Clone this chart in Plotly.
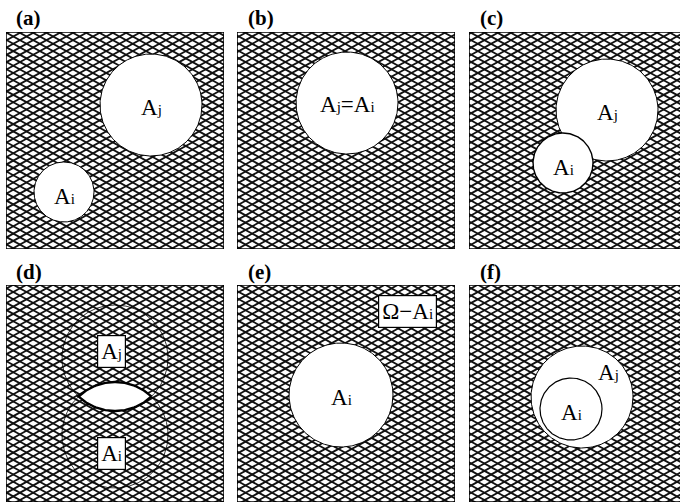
import numpy as np
import plotly.graph_objects as go

W, H = 680, 503

# ---- panel layout (pixels) ----
panel_names = ["(a)", "(b)", "(c)", "(d)", "(e)", "(f)"]
panel_left = [6, 237, 469]
panel_top = [32, 285]
panel_w, panel_h = 218, 217
title_x = [28, 261, 491, 29, 259, 490]
title_y = [18, 18, 18, 272, 272, 272]

# ---- circles (local panel pixel coordinates) ----
circle_panel = [0, 0, 1, 2, 2, 3, 3, 4, 5, 5]
circle_cx = [145, 58, 110, 138, 94, 109, 109, 104, 113, 102]
circle_cy = [73, 160, 71, 78, 131, 73, 150, 110, 112, 124]
circle_r = [51, 30, 51, 51, 30, 53, 53, 52, 51, 31]
circle_filled = [True, True, True, True, True, False, False, True, True, True]
circle_lw = [1.0, 1.0, 1.0, 1.0, 1.4, 0.8, 0.8, 1.0, 1.0, 1.2]

# ---- lens (intersection) in panel (d): indices of the two circles ----
lens_panel = 3
lens_circles = [5, 6]

# ---- text labels ----
label_panel = [0, 0, 1, 2, 2, 3, 3, 4, 4, 5, 5]
label_x = [145, 58, 110, 138, 94, 105, 105, 104, 170, 139, 102]
label_y = [75, 164, 72, 80, 135, 66, 168, 112, 26, 87, 127]
label_main = ["A", "A", "A", "A", "A", "A", "A", "A", "Ω−A", "A", "A"]
label_sub = ["j", "i", "j=A|i", "j", "i", "j", "i", "i", "i", "j", "i"]
label_boxed = [False, False, False, False, False, True, True, False, True, False, False]

# hatching geometry
hatch_slope = 0.55
hatch_gap = 7.3

FONT = "Liberation Serif, Times New Roman, serif"
SUBSPAN = "<span style='font-size:15px'>{}</span>"


def make_text(main, sub):
    if "|" in sub:
        a, b = sub.split("|")
        return main + SUBSPAN.format(a[0]) + a[1:] + SUBSPAN.format(b)
    return main + SUBSPAN.format(sub)


fig = go.Figure()
layout = {}

for p in range(6):
    row, col = divmod(p, 3)
    x0 = panel_left[col]
    y0 = panel_top[row]
    x1 = min(x0 + panel_w, W)
    y1 = min(y0 + panel_h, H)
    n = "" if p == 0 else str(p + 1)
    layout["xaxis" + n] = dict(domain=[x0 / W, x1 / W], range=[0, x1 - x0],
                               visible=False, fixedrange=True,
                               anchor="y" + n)
    layout["yaxis" + n] = dict(domain=[1 - y1 / H, 1 - y0 / H], range=[y1 - y0, 0],
                               visible=False, fixedrange=True,
                               anchor="x" + n)
    xa, ya = "x" + n, "y" + n
    pw, ph = x1 - x0, y1 - y0

    # hatching: two families of lines, phase taken from absolute coords
    xs, ys = [], []
    for sgn in (1, -1):
        cmin = -hatch_slope * (pw + 20) - 20
        cmax = ph + hatch_slope * (pw + 20) + 20
        off = sgn * hatch_slope * x0 - y0
        k0 = int(np.floor((cmin - off) / hatch_gap))
        k1 = int(np.ceil((cmax - off) / hatch_gap))
        for k in range(k0, k1 + 1):
            c = k * hatch_gap + off
            xa0, xa1 = -10, pw + 10
            xs += [xa0, xa1, None]
            ys += [sgn * hatch_slope * xa0 + c, sgn * hatch_slope * xa1 + c, None]
    fig.add_trace(go.Scatter(x=xs, y=ys, mode="lines", xaxis=xa, yaxis=ya,
                             line=dict(color="#111111", width=1.8),
                             hoverinfo="skip", showlegend=False))

    # circles
    t = np.linspace(0, 2 * np.pi, 240)
    for i in range(len(circle_panel)):
        if circle_panel[i] != p:
            continue
        cx, cy, r = circle_cx[i], circle_cy[i], circle_r[i]
        fig.add_trace(go.Scatter(
            x=cx + r * np.cos(t), y=cy + r * np.sin(t), mode="lines",
            xaxis=xa, yaxis=ya,
            fill="toself" if circle_filled[i] else "none",
            fillcolor="white",
            line=dict(color="black", width=circle_lw[i]),
            hoverinfo="skip", showlegend=False))

    if p == lens_panel:
        a, b = lens_circles
        cx = circle_cx[a]
        ya_c, yb_c, r = circle_cy[a], circle_cy[b], circle_r[a]
        h = (yb_c - ya_c) / 2
        th0 = np.arcsin(h / r)
        t1 = np.linspace(th0, np.pi - th0, 80)
        t2 = np.linspace(np.pi + th0, 2 * np.pi - th0, 80)
        lx = np.concatenate([cx + r * np.cos(t1), cx + r * np.cos(t2), [cx + r * np.cos(th0)]])
        ly = np.concatenate([ya_c + r * np.sin(t1), yb_c + r * np.sin(t2), [ya_c + r * np.sin(th0)]])
        fig.add_trace(go.Scatter(x=lx, y=ly, mode="lines", xaxis=xa, yaxis=ya,
                                 fill="toself", fillcolor="white",
                                 line=dict(color="black", width=2.4),
                                 hoverinfo="skip", showlegend=False))

    # border
    fig.add_shape(type="rect", xref=xa, yref=ya, x0=0, x1=panel_w, y0=0, y1=panel_h,
                  line=dict(color="black", width=1.5), layer="above")

    # panel title
    fig.add_annotation(x=title_x[p] / W, y=1 - title_y[p] / H, xref="paper", yref="paper",
                       text="<b>" + panel_names[p] + "</b>", showarrow=False,
                       font=dict(family=FONT, size=21, color="black"),
                       xanchor="center", yanchor="middle")

    # labels
    for i in range(len(label_panel)):
        if label_panel[i] != p:
            continue
        kw = {}
        if label_boxed[i]:
            kw = dict(bgcolor="white", bordercolor="black", borderwidth=1.2, borderpad=3)
        fig.add_annotation(x=label_x[i], y=label_y[i], xref=xa, yref=ya,
                           text=make_text(label_main[i], label_sub[i]), showarrow=False,
                           font=dict(family=FONT, size=23, color="black"),
                           xanchor="center", yanchor="middle", **kw)

fig.update_layout(width=W, height=H, margin=dict(l=0, r=0, t=0, b=0),
                  paper_bgcolor="white", plot_bgcolor="white", showlegend=False,
                  **layout)

fig.write_html("out.html", config={"displayModeBar": False},
               post_script="document.body.style.margin='0px';document.body.style.overflow='hidden';")
